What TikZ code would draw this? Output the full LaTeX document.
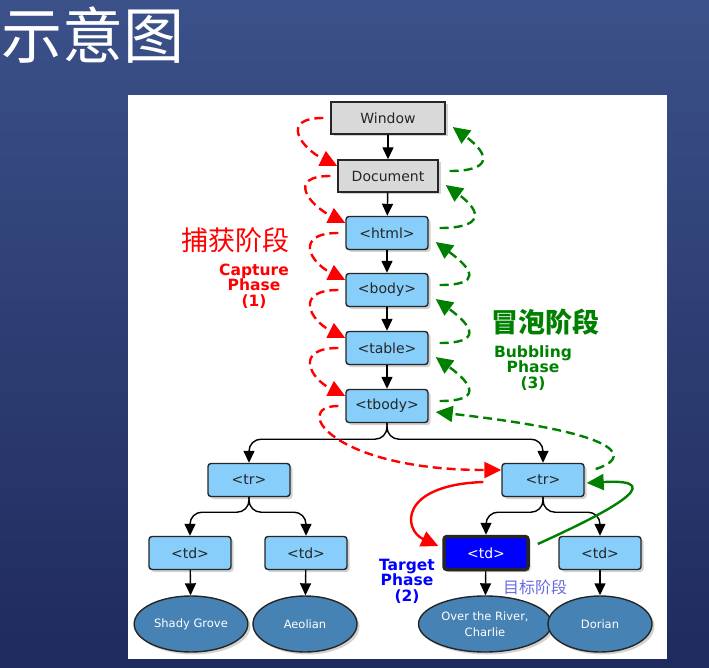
\documentclass[tikz,border=0pt]{standalone}
\usepackage{fontspec}
\setmainfont{DejaVu Sans}
\newfontfamily\cjk{Noto Sans CJK SC}
\usetikzlibrary{arrows.meta,shapes.geometric,shadows}
\definecolor{slidetop}{HTML}{3B5189}
\definecolor{slidebot}{HTML}{1F2A5D}
\definecolor{elemblue}{HTML}{87CEFA}
\definecolor{leafblue}{HTML}{4682B4}
\definecolor{boxgray}{HTML}{D9D9D9}
\definecolor{capred}{HTML}{FF0000}
\definecolor{bubgreen}{HTML}{008000}
\definecolor{tgtblue}{HTML}{0000FF}
\definecolor{tgtlabel}{HTML}{6B6BE0}

\begin{document}
\begin{tikzpicture}[x=1pt,y=-1pt,
  every node/.style={font=\fontsize{14}{16}\selectfont,text=black!85},
  shadowed/.style={drop shadow={shadow xshift=2.5pt,shadow yshift=-2.5pt,opacity=.35}},
  winbox/.style={draw=black!85,line width=1.4pt,fill=boxgray,minimum height=32pt,shadowed},
  elem/.style={draw=black!85,line width=1.4pt,fill=elemblue,rounded corners=3pt,
    minimum width=82pt,minimum height=33pt,shadowed},
  tgtbox/.style={elem,fill=tgtblue,line width=3.5pt,minimum width=84pt,text=white},
  leafnode/.style={ellipse,draw=black!85,line width=1.4pt,fill=leafblue,minimum width=104pt,
    minimum height=56pt,align=center,text=white,font=\fontsize{11.5}{16}\selectfont,shadowed},
  phase/.style={font=\bfseries\fontsize{15.5}{15.5}\selectfont,align=center},
  cjklabel/.style={font=\cjk\fontsize{27}{27}\selectfont},
  treeedge/.style={-{Triangle[length=12pt,width=11pt]},line width=1.4pt,rounded corners=12pt},
  capflow/.style={-{Triangle[length=17pt,width=16pt]},capred,line width=2.4pt,dash pattern=on 9pt off 5pt},
  bubflow/.style={capflow,bubgreen},
  tgtflow/.style={-{Triangle[length=17pt,width=16pt]},line width=2.4pt}
]
  \useasboundingbox (0,0) rectangle (709,668);
  \shade[top color=slidetop,bottom color=slidebot] (0,0) rectangle (709,668);
  \fill[white] (128,95) rectangle (667,659);
  \node[text=white,font=\cjk\fontsize{61}{61}\selectfont] (title) at (93,35) {示意图};

  % DOM tree
  \node[winbox,minimum width=114pt] (win) at (388,118) {Window};
  \node[winbox,minimum width=100pt] (doc) at (388,176) {Document};
  \node[elem] (html) at (387,233) {<html>};
  \node[elem] (body) at (387,290) {<body>};
  \node[elem] (table) at (387,348) {<table>};
  \node[elem] (tbody) at (387,406) {<tbody>};
  \node[elem] (trL) at (249,480) {<tr>};
  \node[elem] (trR) at (543,480) {<tr>};
  \node[elem] (tdA) at (190,553) {<td>};
  \node[elem] (tdB) at (306,553) {<td>};
  \node[tgtbox] (tdC) at (486,553) {<td>};
  \node[elem] (tdD) at (600,553) {<td>};
  \node[leafnode] (grove) at (191,624) {Shady Grove};
  \node[leafnode] (aeol) at (305,624) {Aeolian};
  \node[leafnode] (river) at (485,624) {Over the River,\\Charlie};
  \node[leafnode] (dorian) at (600,624) {Dorian};

  \foreach \a/\b in {win/doc,doc/html,html/body,body/table,table/tbody}
    \draw[treeedge] (\a) -- (\b);
  \draw[treeedge] (tbody.south) -- ++(0,16) -| (trL.north);
  \draw[treeedge] (tbody.south) -- ++(0,16) -| (trR.north);
  \foreach \a/\b in {trL/tdA,trL/tdB,trR/tdC,trR/tdD}
    \draw[treeedge] (\a.south) -- ++(0,15) -| (\b.north);
  \foreach \a/\b in {tdA/grove,tdB/aeol,tdC/river,tdD/dorian}
    \draw[treeedge] (\a) -- (\b);

  % capture, target, bubbling
  \foreach \a/\b in {win/doc,doc/html,html/body,body/table,table/tbody}
    \draw[capflow] ([xshift=-7pt]\a.west) .. controls +(-44,0) and +(-36,-18) .. ([yshift=10pt]\b.west);
  \draw[capflow] ([xshift=-7pt]tbody.west) .. controls +(-48,0) and +(-170,0) .. ([yshift=10pt]trR.west);
  \draw[tgtflow,capred] ([xshift=-18pt,yshift=-2pt]trR.west) .. controls +(-85,3) and +(-35,-16) .. ([xshift=-4pt,yshift=7pt]tdC.west);
  \draw[tgtflow,bubgreen] ([xshift=8pt,yshift=9pt]tdC.east) .. controls +(64,-29) and +(88,-5) .. ([xshift=2pt,yshift=-3pt]trR.east);
  \draw[bubflow] ([xshift=11pt,yshift=11pt]trR.east) .. controls +(30,-9) and +(205,23) .. ([xshift=7pt,yshift=-6pt]tbody.east);
  \foreach \a/\b in {doc/win,html/doc,body/html,table/body,tbody/table}
    \draw[bubflow] ([xshift=11pt,yshift=5pt]\a.east) .. controls +(42,0) and +(38,28) .. ([xshift=7pt,yshift=-9pt]\b.east);

  \node[cjklabel,text=capred] (capcn) at (235,240) {捕获阶段};
  \node[phase,text=capred] (capen) at (254,286) {Capture\\Phase\\(1)};
  \node[cjklabel,font=\cjk\bfseries\fontsize{27}{27}\selectfont,text=bubgreen] (bubcn) at (545,322) {冒泡阶段};
  \node[phase,text=bubgreen] (buben) at (533,368) {Bubbling\\Phase\\(3)};
  \node[phase,text=tgtblue] (tgten) at (407,581) {Target\\Phase\\(2)};
  \node[font=\cjk\fontsize{16}{16}\selectfont,text=tgtlabel] (tgtcn) at (535,587) {目标阶段};
\end{tikzpicture}
\end{document}
